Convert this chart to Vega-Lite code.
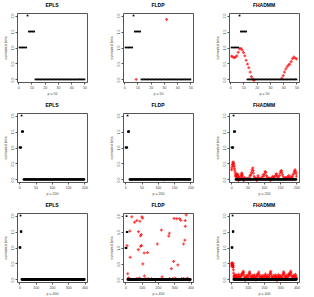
{
"$schema":"https://vega.github.io/schema/vega-lite/v6.json",
"padding":{"left":2,"top":2,"right":2,"bottom":0},
"columns":3,
"spacing":{"column":20,"row":6},
"datasets":{
"truth":[{"i":1,"v":1},{"i":2,"v":1},{"i":3,"v":1},{"i":4,"v":1},{"i":5,"v":1},{"i":6,"v":1},{"i":7,"v":2},{"i":8,"v":1.5},{"i":9,"v":1.5},{"i":10,"v":1.5},{"i":11,"v":1.5},{"i":12,"v":1.5},
{"i":13,"v":0},{"i":14,"v":0},{"i":15,"v":0},{"i":16,"v":0},{"i":17,"v":0},{"i":18,"v":0},{"i":19,"v":0},{"i":20,"v":0},{"i":21,"v":0},{"i":22,"v":0},{"i":23,"v":0},{"i":24,"v":0},{"i":25,"v":0},{"i":26,"v":0},{"i":27,"v":0},{"i":28,"v":0},{"i":29,"v":0},{"i":30,"v":0},{"i":31,"v":0},{"i":32,"v":0},{"i":33,"v":0},{"i":34,"v":0},{"i":35,"v":0},{"i":36,"v":0},{"i":37,"v":0},{"i":38,"v":0},{"i":39,"v":0},{"i":40,"v":0},{"i":41,"v":0},{"i":42,"v":0},{"i":43,"v":0},{"i":44,"v":0},{"i":45,"v":0},{"i":46,"v":0},{"i":47,"v":0},{"i":48,"v":0},{"i":49,"v":0},{"i":50,"v":0},
{"i":51,"v":0},{"i":52,"v":0},{"i":53,"v":0},{"i":54,"v":0},{"i":55,"v":0},{"i":56,"v":0},{"i":57,"v":0},{"i":58,"v":0},{"i":59,"v":0},{"i":60,"v":0},{"i":61,"v":0},{"i":62,"v":0},{"i":63,"v":0},{"i":64,"v":0},{"i":65,"v":0},{"i":66,"v":0},{"i":67,"v":0},{"i":68,"v":0},{"i":69,"v":0},{"i":70,"v":0},{"i":71,"v":0},{"i":72,"v":0},{"i":73,"v":0},{"i":74,"v":0},{"i":75,"v":0},{"i":76,"v":0},{"i":77,"v":0},{"i":78,"v":0},{"i":79,"v":0},{"i":80,"v":0},{"i":81,"v":0},{"i":82,"v":0},{"i":83,"v":0},{"i":84,"v":0},{"i":85,"v":0},{"i":86,"v":0},{"i":87,"v":0},{"i":88,"v":0},{"i":89,"v":0},{"i":90,"v":0},{"i":91,"v":0},{"i":92,"v":0},{"i":93,"v":0},{"i":94,"v":0},{"i":95,"v":0},{"i":96,"v":0},{"i":97,"v":0},{"i":98,"v":0},{"i":99,"v":0},{"i":100,"v":0},
{"i":101,"v":0},{"i":102,"v":0},{"i":103,"v":0},{"i":104,"v":0},{"i":105,"v":0},{"i":106,"v":0},{"i":107,"v":0},{"i":108,"v":0},{"i":109,"v":0},{"i":110,"v":0},{"i":111,"v":0},{"i":112,"v":0},{"i":113,"v":0},{"i":114,"v":0},{"i":115,"v":0},{"i":116,"v":0},{"i":117,"v":0},{"i":118,"v":0},{"i":119,"v":0},{"i":120,"v":0},{"i":121,"v":0},{"i":122,"v":0},{"i":123,"v":0},{"i":124,"v":0},{"i":125,"v":0},{"i":126,"v":0},{"i":127,"v":0},{"i":128,"v":0},{"i":129,"v":0},{"i":130,"v":0},{"i":131,"v":0},{"i":132,"v":0},{"i":133,"v":0},{"i":134,"v":0},{"i":135,"v":0},{"i":136,"v":0},{"i":137,"v":0},{"i":138,"v":0},{"i":139,"v":0},{"i":140,"v":0},{"i":141,"v":0},{"i":142,"v":0},{"i":143,"v":0},{"i":144,"v":0},{"i":145,"v":0},{"i":146,"v":0},{"i":147,"v":0},{"i":148,"v":0},{"i":149,"v":0},{"i":150,"v":0},
{"i":151,"v":0},{"i":152,"v":0},{"i":153,"v":0},{"i":154,"v":0},{"i":155,"v":0},{"i":156,"v":0},{"i":157,"v":0},{"i":158,"v":0},{"i":159,"v":0},{"i":160,"v":0},{"i":161,"v":0},{"i":162,"v":0},{"i":163,"v":0},{"i":164,"v":0},{"i":165,"v":0},{"i":166,"v":0},{"i":167,"v":0},{"i":168,"v":0},{"i":169,"v":0},{"i":170,"v":0},{"i":171,"v":0},{"i":172,"v":0},{"i":173,"v":0},{"i":174,"v":0},{"i":175,"v":0},{"i":176,"v":0},{"i":177,"v":0},{"i":178,"v":0},{"i":179,"v":0},{"i":180,"v":0},{"i":181,"v":0},{"i":182,"v":0},{"i":183,"v":0},{"i":184,"v":0},{"i":185,"v":0},{"i":186,"v":0},{"i":187,"v":0},{"i":188,"v":0},{"i":189,"v":0},{"i":190,"v":0},{"i":191,"v":0},{"i":192,"v":0},{"i":193,"v":0},{"i":194,"v":0},{"i":195,"v":0},{"i":196,"v":0},{"i":197,"v":0},{"i":198,"v":0},{"i":199,"v":0},{"i":200,"v":0},
{"i":201,"v":0},{"i":202,"v":0},{"i":203,"v":0},{"i":204,"v":0},{"i":205,"v":0},{"i":206,"v":0},{"i":207,"v":0},{"i":208,"v":0},{"i":209,"v":0},{"i":210,"v":0},{"i":211,"v":0},{"i":212,"v":0},{"i":213,"v":0},{"i":214,"v":0},{"i":215,"v":0},{"i":216,"v":0},{"i":217,"v":0},{"i":218,"v":0},{"i":219,"v":0},{"i":220,"v":0},{"i":221,"v":0},{"i":222,"v":0},{"i":223,"v":0},{"i":224,"v":0},{"i":225,"v":0},{"i":226,"v":0},{"i":227,"v":0},{"i":228,"v":0},{"i":229,"v":0},{"i":230,"v":0},{"i":231,"v":0},{"i":232,"v":0},{"i":233,"v":0},{"i":234,"v":0},{"i":235,"v":0},{"i":236,"v":0},{"i":237,"v":0},{"i":238,"v":0},{"i":239,"v":0},{"i":240,"v":0},{"i":241,"v":0},{"i":242,"v":0},{"i":243,"v":0},{"i":244,"v":0},{"i":245,"v":0},{"i":246,"v":0},{"i":247,"v":0},{"i":248,"v":0},{"i":249,"v":0},{"i":250,"v":0},
{"i":251,"v":0},{"i":252,"v":0},{"i":253,"v":0},{"i":254,"v":0},{"i":255,"v":0},{"i":256,"v":0},{"i":257,"v":0},{"i":258,"v":0},{"i":259,"v":0},{"i":260,"v":0},{"i":261,"v":0},{"i":262,"v":0},{"i":263,"v":0},{"i":264,"v":0},{"i":265,"v":0},{"i":266,"v":0},{"i":267,"v":0},{"i":268,"v":0},{"i":269,"v":0},{"i":270,"v":0},{"i":271,"v":0},{"i":272,"v":0},{"i":273,"v":0},{"i":274,"v":0},{"i":275,"v":0},{"i":276,"v":0},{"i":277,"v":0},{"i":278,"v":0},{"i":279,"v":0},{"i":280,"v":0},{"i":281,"v":0},{"i":282,"v":0},{"i":283,"v":0},{"i":284,"v":0},{"i":285,"v":0},{"i":286,"v":0},{"i":287,"v":0},{"i":288,"v":0},{"i":289,"v":0},{"i":290,"v":0},{"i":291,"v":0},{"i":292,"v":0},{"i":293,"v":0},{"i":294,"v":0},{"i":295,"v":0},{"i":296,"v":0},{"i":297,"v":0},{"i":298,"v":0},{"i":299,"v":0},{"i":300,"v":0},
{"i":301,"v":0},{"i":302,"v":0},{"i":303,"v":0},{"i":304,"v":0},{"i":305,"v":0},{"i":306,"v":0},{"i":307,"v":0},{"i":308,"v":0},{"i":309,"v":0},{"i":310,"v":0},{"i":311,"v":0},{"i":312,"v":0},{"i":313,"v":0},{"i":314,"v":0},{"i":315,"v":0},{"i":316,"v":0},{"i":317,"v":0},{"i":318,"v":0},{"i":319,"v":0},{"i":320,"v":0},{"i":321,"v":0},{"i":322,"v":0},{"i":323,"v":0},{"i":324,"v":0},{"i":325,"v":0},{"i":326,"v":0},{"i":327,"v":0},{"i":328,"v":0},{"i":329,"v":0},{"i":330,"v":0},{"i":331,"v":0},{"i":332,"v":0},{"i":333,"v":0},{"i":334,"v":0},{"i":335,"v":0},{"i":336,"v":0},{"i":337,"v":0},{"i":338,"v":0},{"i":339,"v":0},{"i":340,"v":0},{"i":341,"v":0},{"i":342,"v":0},{"i":343,"v":0},{"i":344,"v":0},{"i":345,"v":0},{"i":346,"v":0},{"i":347,"v":0},{"i":348,"v":0},{"i":349,"v":0},{"i":350,"v":0},
{"i":351,"v":0},{"i":352,"v":0},{"i":353,"v":0},{"i":354,"v":0},{"i":355,"v":0},{"i":356,"v":0},{"i":357,"v":0},{"i":358,"v":0},{"i":359,"v":0},{"i":360,"v":0},{"i":361,"v":0},{"i":362,"v":0},{"i":363,"v":0},{"i":364,"v":0},{"i":365,"v":0},{"i":366,"v":0},{"i":367,"v":0},{"i":368,"v":0},{"i":369,"v":0},{"i":370,"v":0},{"i":371,"v":0},{"i":372,"v":0},{"i":373,"v":0},{"i":374,"v":0},{"i":375,"v":0},{"i":376,"v":0},{"i":377,"v":0},{"i":378,"v":0},{"i":379,"v":0},{"i":380,"v":0},{"i":381,"v":0},{"i":382,"v":0},{"i":383,"v":0},{"i":384,"v":0},{"i":385,"v":0},{"i":386,"v":0},{"i":387,"v":0},{"i":388,"v":0},{"i":389,"v":0},{"i":390,"v":0},{"i":391,"v":0},{"i":392,"v":0},{"i":393,"v":0},{"i":394,"v":0},{"i":395,"v":0},{"i":396,"v":0},{"i":397,"v":0},{"i":398,"v":0},{"i":399,"v":0},{"i":400,"v":0}],
"fl50":[{"i":9,"v":0},{"i":32,"v":1.88}],
"fh50":[{"i":1,"v":0.73},{"i":2,"v":0.7},{"i":3,"v":0.68},{"i":4,"v":0.7},{"i":5,"v":0.74},{"i":6,"v":0.85},{"i":7,"v":0.96},{"i":8,"v":0.97},{"i":9,"v":0.92},{"i":10,"v":0.84},{"i":11,"v":0.74},{"i":12,"v":0.6},{"i":13,"v":0.48},{"i":14,"v":0.37},{"i":15,"v":0.23},{"i":16,"v":0.09},{"i":17,"v":0.01},{"i":18,"v":-0.03},{"i":39,"v":0.04},{"i":40,"v":0.12},{"i":41,"v":0.23},{"i":42,"v":0.33},{"i":43,"v":0.4},{"i":44,"v":0.45},{"i":45,"v":0.48},{"i":46,"v":0.56},{"i":47,"v":0.65},{"i":48,"v":0.7},{"i":49,"v":0.67},{"i":50,"v":0.64}],
"fl200":[{"i":119,"v":-0.01}],
"fh200":[{"i":1,"v":0.3},{"i":2,"v":0.36},{"i":3,"v":0.42},{"i":4,"v":0.47},{"i":5,"v":0.52},{"i":6,"v":0.55},{"i":7,"v":0.5},{"i":8,"v":0.45},{"i":9,"v":0.4},{"i":10,"v":0.33},{"i":11,"v":0.27},{"i":12,"v":0.2},{"i":13,"v":0.12},{"i":14,"v":0.08},{"i":15,"v":0.15},{"i":16,"v":0.18},{"i":17,"v":0.1},{"i":18,"v":0.05},{"i":19,"v":0.12},{"i":20,"v":0.16},{"i":21,"v":0.09},{"i":22,"v":-0.03},{"i":23,"v":0.04},{"i":24,"v":0.07},{"i":28,"v":0.03},{"i":30,"v":0.1},{"i":31,"v":0.14},{"i":32,"v":0.2},{"i":33,"v":0.17},{"i":34,"v":0.12},{"i":35,"v":0.06},{"i":38,"v":-0.04},{"i":40,"v":0.05},{"i":42,"v":0.02},{"i":45,"v":0.04},{"i":50,"v":0.03},{"i":55,"v":0.06},{"i":58,"v":0.12},{"i":60,"v":0.15},{"i":62,"v":0.22},{"i":64,"v":0.3},{"i":66,"v":0.36},{"i":67,"v":0.28},{"i":68,"v":0.2},{"i":70,"v":0.1},{"i":72,"v":0.05},{"i":75,"v":0.03},{"i":78,"v":-0.03},{"i":80,"v":0.06},{"i":82,"v":0.12},{"i":84,"v":0.05},{"i":88,"v":0.02},{"i":92,"v":0.04},{"i":95,"v":0.08},{"i":98,"v":0.14},{"i":100,"v":0.1},{"i":102,"v":0.18},{"i":104,"v":0.25},{"i":106,"v":0.22},{"i":108,"v":0.12},{"i":110,"v":0.06},{"i":112,"v":0.03},{"i":115,"v":0.05},{"i":118,"v":0.02},{"i":120,"v":-0.03},{"i":123,"v":0.04},{"i":126,"v":0.07},{"i":128,"v":0.1},{"i":130,"v":0.05},{"i":133,"v":0.08},{"i":136,"v":0.12},{"i":138,"v":0.18},{"i":140,"v":0.14},{"i":142,"v":0.08},{"i":145,"v":0.05},{"i":148,"v":0.12},{"i":150,"v":0.2},{"i":152,"v":0.26},{"i":154,"v":0.28},{"i":155,"v":0.22},{"i":157,"v":0.15},{"i":160,"v":0.08},{"i":163,"v":0.04},{"i":166,"v":0.06},{"i":168,"v":0.02},{"i":170,"v":0.05},{"i":173,"v":0.08},{"i":176,"v":0.12},{"i":178,"v":0.06},{"i":180,"v":0.03},{"i":183,"v":0.1},{"i":185,"v":0.05},{"i":188,"v":0.08},{"i":190,"v":0.15},{"i":192,"v":0.2},{"i":194,"v":0.26},{"i":196,"v":0.3},{"i":198,"v":0.24},{"i":199,"v":0.18},{"i":200,"v":0.1}],
"fl400":[{"i":39,"v":1.98},{"i":101,"v":1.98},{"i":105,"v":1.94},{"i":70,"v":1.86},{"i":56,"v":1.81},{"i":89,"v":1.84},{"i":27,"v":1.53},{"i":80,"v":1.51},{"i":93,"v":1.38},{"i":97,"v":1.42},{"i":10,"v":1.07},{"i":92,"v":1.05},{"i":99,"v":1.07},{"i":79,"v":0.94},{"i":115,"v":0.84},{"i":136,"v":0.85},{"i":29,"v":0.7},{"i":107,"v":0.49},{"i":14,"v":0.18},{"i":116,"v":0.11},{"i":87,"v":0.04},{"i":196,"v":1.12},{"i":221,"v":1.56},{"i":270,"v":1.46},{"i":266,"v":1.37},{"i":225,"v":0.08},{"i":299,"v":1.93},{"i":315,"v":1.92},{"i":332,"v":1.92},{"i":340,"v":1.87},{"i":367,"v":1.86},{"i":373,"v":2.04},{"i":368,"v":1.68},{"i":357,"v":1.12},{"i":365,"v":1.24},{"i":296,"v":0.57},{"i":282,"v":0.34},{"i":322,"v":0.46},{"i":358,"v":0.03},{"i":20,"v":0.05},{"i":16,"v":0.02},{"i":71,"v":0.03},{"i":125,"v":0.02},{"i":140,"v":0.03},{"i":184,"v":-0.03},{"i":160,"v":0.02},{"i":271,"v":0.03},{"i":290,"v":0.02},{"i":305,"v":0.04},{"i":345,"v":0.03},{"i":380,"v":0.04},{"i":392,"v":-0.02}],
"fh400":[{"i":1,"v":0.42},{"i":2,"v":0.48},{"i":3,"v":0.5},{"i":4,"v":0.52},{"i":5,"v":0.47},{"i":6,"v":0.44},{"i":7,"v":0.4},{"i":8,"v":0.45},{"i":9,"v":0.5},{"i":10,"v":0.43},{"i":11,"v":0.38},{"i":12,"v":0.3},{"i":13,"v":0.2},{"i":14,"v":0.1},{"i":16,"v":0.05},{"i":18,"v":0.12},{"i":20,"v":0.08},{"i":22,"v":0.15},{"i":24,"v":0.06},{"i":27,"v":0.03},{"i":30,"v":0.1},{"i":33,"v":0.14},{"i":36,"v":0.07},{"i":39,"v":0.04},{"i":42,"v":0.09},{"i":45,"v":0.16},{"i":48,"v":0.11},{"i":51,"v":0.05},{"i":54,"v":0.02},{"i":57,"v":0.08},{"i":60,"v":0.12},{"i":63,"v":0.18},{"i":66,"v":0.14},{"i":69,"v":0.2},{"i":72,"v":0.26},{"i":74,"v":0.22},{"i":76,"v":0.15},{"i":79,"v":0.08},{"i":82,"v":0.04},{"i":85,"v":-0.03},{"i":88,"v":0.06},{"i":91,"v":0.1},{"i":94,"v":0.13},{"i":97,"v":0.07},{"i":100,"v":0.03},{"i":103,"v":0.09},{"i":106,"v":0.15},{"i":109,"v":0.2},{"i":112,"v":0.24},{"i":114,"v":0.18},{"i":117,"v":0.11},{"i":120,"v":0.05},{"i":123,"v":0.02},{"i":126,"v":0.08},{"i":129,"v":0.12},{"i":132,"v":0.06},{"i":135,"v":0.03},{"i":138,"v":0.1},{"i":141,"v":0.14},{"i":144,"v":0.09},{"i":147,"v":0.05},{"i":150,"v":-0.02},{"i":153,"v":0.07},{"i":156,"v":0.12},{"i":159,"v":0.16},{"i":162,"v":0.1},{"i":165,"v":0.18},{"i":168,"v":0.23},{"i":170,"v":0.15},{"i":173,"v":0.08},{"i":176,"v":0.04},{"i":179,"v":0.06},{"i":182,"v":0.11},{"i":185,"v":0.07},{"i":188,"v":0.03},{"i":191,"v":0.09},{"i":194,"v":0.13},{"i":197,"v":0.06},{"i":200,"v":0.02},{"i":203,"v":0.08},{"i":206,"v":0.12},{"i":209,"v":0.17},{"i":212,"v":0.1},{"i":215,"v":0.05},{"i":218,"v":0.03},{"i":221,"v":0.09},{"i":224,"v":0.14},{"i":227,"v":0.08},{"i":230,"v":0.04},{"i":233,"v":0.1},{"i":236,"v":0.16},{"i":239,"v":0.21},{"i":241,"v":0.25},{"i":243,"v":0.18},{"i":246,"v":0.1},{"i":249,"v":0.05},{"i":252,"v":0.02},{"i":255,"v":0.07},{"i":258,"v":0.12},{"i":261,"v":0.06},{"i":264,"v":0.03},{"i":267,"v":0.09},{"i":270,"v":0.14},{"i":273,"v":0.1},{"i":276,"v":0.05},{"i":279,"v":-0.03},{"i":282,"v":0.06},{"i":285,"v":0.11},{"i":288,"v":0.15},{"i":291,"v":0.09},{"i":294,"v":0.04},{"i":297,"v":0.07},{"i":300,"v":0.12},{"i":303,"v":0.08},{"i":306,"v":0.03},{"i":309,"v":0.06},{"i":312,"v":0.1},{"i":315,"v":0.15},{"i":318,"v":0.2},{"i":321,"v":0.24},{"i":323,"v":0.19},{"i":326,"v":0.12},{"i":329,"v":0.06},{"i":332,"v":0.03},{"i":335,"v":0.08},{"i":338,"v":0.13},{"i":341,"v":0.07},{"i":344,"v":0.04},{"i":347,"v":0.09},{"i":350,"v":0.14},{"i":353,"v":0.18},{"i":356,"v":0.12},{"i":359,"v":0.16},{"i":362,"v":0.22},{"i":364,"v":0.26},{"i":366,"v":0.2},{"i":369,"v":0.12},{"i":372,"v":0.07},{"i":375,"v":0.03},{"i":378,"v":0.08},{"i":381,"v":0.13},{"i":384,"v":0.09},{"i":387,"v":0.05},{"i":390,"v":0.1},{"i":393,"v":0.16},{"i":396,"v":0.11},{"i":398,"v":0.06},{"i":400,"v":0.03}]
},
"concat":[
{"title":"EPLS","width":70,"height":69,"data":{"name":"truth"},"transform":[{"filter":"datum.i <= 50"}],"mark":{"type":"point","shape":"square","filled":true,"size":3,"color":"#000","opacity":1},
 "encoding":{"x":{"field":"i","type":"quantitative","scale":{"domain":[-0.96,51.96],"nice":false,"zero":false},"axis":{"values":[0,10,20,30,40,50],"title":"p = 50"}},"y":{"field":"v","type":"quantitative","scale":{"domain":[-0.08,2.08],"nice":false},"axis":{"values":[0,0.5,1,1.5,2],"format":".1f","title":"estimated beta"}}}},
{"title":"FLDP","width":70,"height":69,
 "encoding":{"x":{"field":"i","type":"quantitative","scale":{"domain":[-0.96,51.96],"nice":false,"zero":false},"axis":{"values":[0,10,20,30,40,50],"title":"p = 50"}},"y":{"field":"v","type":"quantitative","scale":{"domain":[-0.08,2.08],"nice":false},"axis":{"values":[0,0.5,1,1.5,2],"format":".1f","title":"estimated beta"}}},
 "layer":[
 {"data":{"name":"fl50"},"mark":{"type":"point","shape":"cross","filled":true,"size":9,"color":"#ff0000","opacity":0.75}},
 {"data":{"name":"truth"},"transform":[{"filter":"datum.i <= 50"}],"mark":{"type":"point","shape":"square","filled":true,"size":3,"color":"#000","opacity":1}}]},
{"title":"FHADMM","width":70,"height":69,
 "encoding":{"x":{"field":"i","type":"quantitative","scale":{"domain":[-0.96,51.96],"nice":false,"zero":false},"axis":{"values":[0,10,20,30,40,50],"title":"p = 50"}},"y":{"field":"v","type":"quantitative","scale":{"domain":[-0.08,2.08],"nice":false},"axis":{"values":[0,0.5,1,1.5,2],"format":".1f","title":"estimated beta"}}},
 "layer":[
 {"data":{"name":"fh50"},"mark":{"type":"point","shape":"cross","filled":true,"size":9,"color":"#ff0000","opacity":0.75}},
 {"data":{"name":"truth"},"transform":[{"filter":"datum.i <= 50"}],"mark":{"type":"point","shape":"square","filled":true,"size":3,"color":"#000","opacity":1}}]},
{"title":"EPLS","width":70,"height":69,"data":{"name":"truth"},"transform":[{"filter":"datum.i <= 200"}],"mark":{"type":"point","shape":"square","filled":true,"size":3,"color":"#000","opacity":1},
 "encoding":{"x":{"field":"i","type":"quantitative","scale":{"domain":[-6.96,207.96],"nice":false,"zero":false},"axis":{"values":[0,50,100,150,200],"title":"p = 200"}},"y":{"field":"v","type":"quantitative","scale":{"domain":[-0.08,2.08],"nice":false},"axis":{"values":[0,0.5,1,1.5,2],"format":".1f","title":"estimated beta"}}}},
{"title":"FLDP","width":70,"height":69,
 "encoding":{"x":{"field":"i","type":"quantitative","scale":{"domain":[-6.96,207.96],"nice":false,"zero":false},"axis":{"values":[0,50,100,150,200],"title":"p = 200"}},"y":{"field":"v","type":"quantitative","scale":{"domain":[-0.08,2.08],"nice":false},"axis":{"values":[0,0.5,1,1.5,2],"format":".1f","title":"estimated beta"}}},
 "layer":[
 {"data":{"name":"fl200"},"mark":{"type":"point","shape":"cross","filled":true,"size":9,"color":"#ff0000","opacity":0.75}},
 {"data":{"name":"truth"},"transform":[{"filter":"datum.i <= 200"}],"mark":{"type":"point","shape":"square","filled":true,"size":3,"color":"#000","opacity":1}}]},
{"title":"FHADMM","width":70,"height":69,
 "encoding":{"x":{"field":"i","type":"quantitative","scale":{"domain":[-6.96,207.96],"nice":false,"zero":false},"axis":{"values":[0,50,100,150,200],"title":"p = 200"}},"y":{"field":"v","type":"quantitative","scale":{"domain":[-0.08,2.08],"nice":false},"axis":{"values":[0,0.5,1,1.5,2],"format":".1f","title":"estimated beta"}}},
 "layer":[
 {"data":{"name":"fh200"},"mark":{"type":"point","shape":"cross","filled":true,"size":9,"color":"#ff0000","opacity":0.75}},
 {"data":{"name":"truth"},"transform":[{"filter":"datum.i <= 200"}],"mark":{"type":"point","shape":"square","filled":true,"size":3,"color":"#000","opacity":1}}]},
{"title":"EPLS","width":70,"height":69,"data":{"name":"truth"},"mark":{"type":"point","shape":"square","filled":true,"size":3,"color":"#000","opacity":1},
 "encoding":{"x":{"field":"i","type":"quantitative","scale":{"domain":[-14.96,414.96],"nice":false,"zero":false},"axis":{"values":[0,100,200,300,400],"title":"p = 400"}},"y":{"field":"v","type":"quantitative","scale":{"domain":[-0.08,2.08],"nice":false},"axis":{"values":[0,0.5,1,1.5,2],"format":".1f","title":"estimated beta"}}}},
{"title":"FLDP","width":70,"height":69,
 "encoding":{"x":{"field":"i","type":"quantitative","scale":{"domain":[-14.96,414.96],"nice":false,"zero":false},"axis":{"values":[0,100,200,300,400],"title":"p = 400"}},"y":{"field":"v","type":"quantitative","scale":{"domain":[-0.08,2.1],"nice":false},"axis":{"values":[0,0.5,1,1.5,2],"format":".1f","title":"estimated beta"}}},
 "layer":[
 {"data":{"name":"fl400"},"mark":{"type":"point","shape":"cross","filled":true,"size":9,"color":"#ff0000","opacity":0.75}},
 {"data":{"name":"truth"},"mark":{"type":"point","shape":"square","filled":true,"size":3,"color":"#000","opacity":1}}]},
{"title":"FHADMM","width":70,"height":69,
 "encoding":{"x":{"field":"i","type":"quantitative","scale":{"domain":[-14.96,414.96],"nice":false,"zero":false},"axis":{"values":[0,100,200,300,400],"title":"p = 400"}},"y":{"field":"v","type":"quantitative","scale":{"domain":[-0.08,2.08],"nice":false},"axis":{"values":[0,0.5,1,1.5,2],"format":".1f","title":"estimated beta"}}},
 "layer":[
 {"data":{"name":"fh400"},"mark":{"type":"point","shape":"cross","filled":true,"size":9,"color":"#ff0000","opacity":0.75}},
 {"data":{"name":"truth"},"mark":{"type":"point","shape":"square","filled":true,"size":3,"color":"#000","opacity":1}}]}
],
"config":{
 "view":{"stroke":"#555","strokeWidth":1},
 "axis":{"grid":false,"domain":false,"tickColor":"#555","tickSize":2,"labelFontSize":3.5,"titleFontSize":3.5,"labelColor":"#444","titleColor":"#444","labelPadding":1,"titlePadding":3,"titleFontWeight":"normal","labelFont":"Liberation Sans","titleFont":"Liberation Sans"},
 "axisY":{"labelAngle":-90,"labelAlign":"center","labelBaseline":"bottom"},
 "title":{"fontSize":5,"font":"Liberation Sans","fontWeight":"bold","offset":5,"color":"#000"}
}
}
